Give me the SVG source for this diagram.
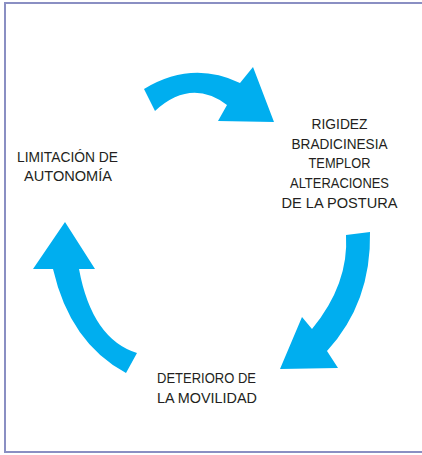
<svg xmlns="http://www.w3.org/2000/svg" width="422" height="455" viewBox="0 0 422 455">
<style>
.lbl{font-family:"Liberation Sans",Arial,sans-serif;font-size:15.5px;fill:#231f20;text-anchor:middle}
.arr{fill:#00aeef;stroke:none}
</style>
<rect x="0" y="0" width="422" height="455" fill="#ffffff"/>
<rect id="frame" x="5" y="3" width="430" height="449" fill="none" stroke="#8a8fc3" stroke-width="2"/>
<g id="connectors">
<path class="arr" d="M144,89 Q192,60 240,83 L253,67 L274,122 L218,121 L227,105 Q191,78 155,111 Z"/>
<path class="arr" d="M370,232 Q371.5,302.5 327,351 L338,368 L280,369 L302,317 L312,329 Q349,284 346,235 Z"/>
<path class="arr" d="M65,222 L33,269 L53,269 Q70,343 126,373 L137,353 Q92,339 79,269 L95,269 Z"/>
</g>
<g id="node-sintomas">
<text class="lbl" x="339.5" y="129" textLength="56" lengthAdjust="spacingAndGlyphs">RIGIDEZ</text>
<text class="lbl" x="339.5" y="148.7" textLength="96" lengthAdjust="spacingAndGlyphs">BRADICINESIA</text>
<text class="lbl" x="339.5" y="168.4" textLength="62" lengthAdjust="spacingAndGlyphs">TEMPLOR</text>
<text class="lbl" x="339.5" y="188.1" textLength="99" lengthAdjust="spacingAndGlyphs">ALTERACIONES</text>
<text class="lbl" x="339.5" y="207.8" textLength="116" lengthAdjust="spacingAndGlyphs">DE LA POSTURA</text>
</g>
<g id="node-deterioro">
<text class="lbl" x="206.5" y="383" textLength="99" lengthAdjust="spacingAndGlyphs">DETERIORO DE</text>
<text class="lbl" x="207" y="403" textLength="100" lengthAdjust="spacingAndGlyphs">LA MOVILIDAD</text>
</g>
<g id="node-limitacion">
<text class="lbl" x="67.5" y="161.5" textLength="101" lengthAdjust="spacingAndGlyphs">LIMITACIÓN DE</text>
<text class="lbl" x="68" y="181" textLength="88" lengthAdjust="spacingAndGlyphs">AUTONOMÍA</text>
</g>
</svg>
